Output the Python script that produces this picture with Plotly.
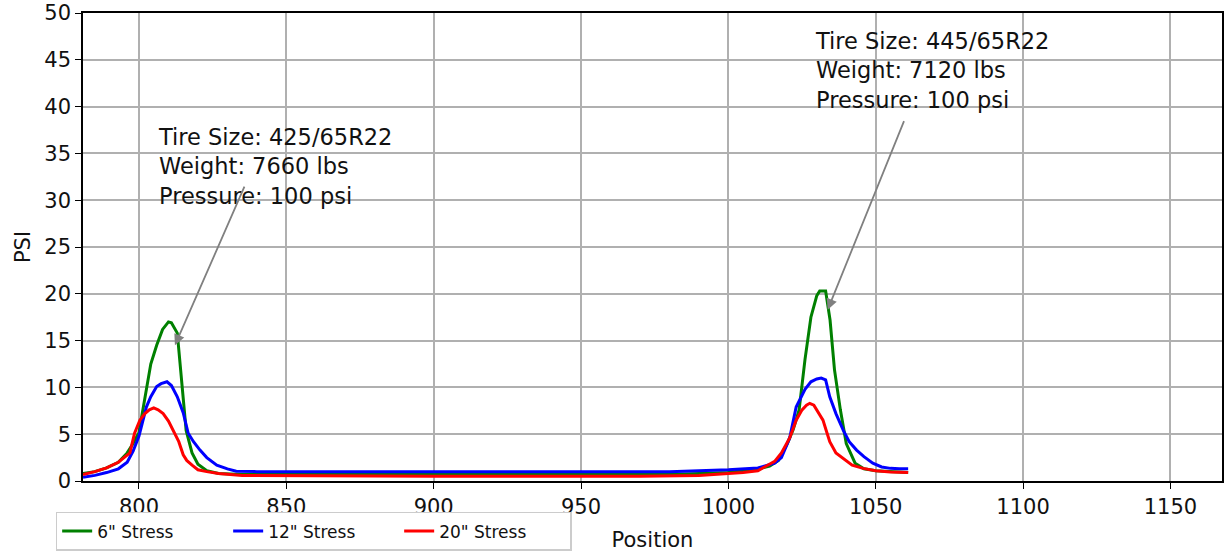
import plotly.graph_objects as go

# ---- data ----
green_x = [781, 785, 789, 793, 796, 798, 800, 802, 804, 806, 808, 810, 811, 813, 814.5, 816, 818, 820, 823, 827,
           835, 850, 875, 900, 925, 950, 980, 1000, 1005, 1010, 1014, 1017, 1020, 1022, 1024, 1026, 1028, 1030,
           1031, 1033, 1034.5, 1036, 1038, 1040, 1043, 1046, 1050, 1055, 1061]
green_y = [0.8, 1.0, 1.4, 2.0, 3.0, 4.0, 5.2, 9.0, 12.5, 14.5, 16.2, 17.0, 16.9, 15.8, 10.8, 5.4, 3.0, 1.8, 1.1, 0.8,
           0.7, 0.7, 0.72, 0.7, 0.68, 0.65, 0.7, 0.9, 1.1, 1.3, 1.6, 2.2, 4.0, 5.5, 7.6, 13.0, 17.5, 19.8,
           20.3, 20.3, 17.2, 11.9, 7.6, 4.0, 1.9, 1.3, 1.1, 1.0, 0.9]

blue_x = [781, 785, 789, 793, 796, 798, 800, 802.5, 804, 806, 807.5, 809.5, 811, 813, 815, 816.7, 818.5, 820.7, 823,
          826.4, 830, 833, 840, 860, 880, 900, 920, 940, 960, 980, 1000, 1005, 1010, 1015.7, 1018, 1020.8, 1023,
          1026, 1028, 1030, 1031.5, 1033, 1034.4, 1036.5, 1039, 1041, 1043.5, 1046, 1049, 1052, 1055, 1058, 1061]
blue_y = [0.4, 0.6, 0.9, 1.3, 2.0, 3.2, 4.8, 7.9, 9.0, 10.1, 10.4, 10.6, 10.2, 9.0, 7.3, 5.1, 4.2, 3.3, 2.5,
          1.7, 1.3, 1.05, 1.0, 1.0, 1.0, 1.0, 0.95, 0.95, 0.95, 1.0, 1.2, 1.3, 1.4, 1.9, 2.5, 4.6, 7.9,
          9.8, 10.6, 10.9, 11.0, 10.8, 9.0, 7.2, 5.4, 4.2, 3.3, 2.6, 1.9, 1.5, 1.35, 1.3, 1.3]

red_x = [781, 785, 789, 793, 796.9, 798.5, 800.3, 802, 803.5, 805, 806.5, 808.2, 810, 811.6, 813.5, 815, 816.2, 818,
         820, 823, 827, 835, 860, 900, 940, 970, 990, 1000, 1005, 1010, 1015.7, 1018, 1020.8, 1023, 1025, 1026.5,
         1027.6, 1029, 1030.5, 1032.1, 1033.2, 1034.4, 1036.5, 1038.9, 1042, 1045.7, 1050, 1055, 1061]
red_y = [0.7, 1.0, 1.4, 2.0, 3.0, 5.1, 6.5, 7.2, 7.6, 7.8, 7.6, 7.2, 6.4, 5.4, 4.2, 2.8, 2.2, 1.7,
         1.2, 1.0, 0.8, 0.6, 0.55, 0.5, 0.5, 0.5, 0.6, 0.8, 0.9, 1.1, 2.1, 3.0, 4.6, 6.5, 7.6, 8.1,
         8.3, 8.1, 7.3, 6.5, 5.4, 4.2, 3.0, 2.4, 1.7, 1.35, 1.1, 0.95, 0.9]

series_names = ['6" Stress', '12" Stress', '20" Stress']
series_colors = ["green", "blue", "red"]

x_ticks = [800, 850, 900, 950, 1000, 1050, 1100, 1150]
y_ticks = [0, 5, 10, 15, 20, 25, 30, 35, 40, 45, 50]

notes = [
    {"text": "Tire Size: 425/65R22<br>Weight: 7660 lbs<br>Pressure: 100 psi",
     "tx": 805.8, "ty": 38.4, "ax": 836, "ay": 31.6, "hx": 812.2, "hy": 14.5},
    {"text": "Tire Size: 445/65R22<br>Weight: 7120 lbs<br>Pressure: 100 psi",
     "tx": 1028.8, "ty": 48.6, "ax": 1059.8, "ay": 38.6, "hx": 1033.7, "hy": 18.3},
]

FONT = "DejaVu Sans"

fig = go.Figure()
for xs, ys, name, col in zip([green_x, blue_x, red_x], [green_y, blue_y, red_y], series_names, series_colors):
    fig.add_trace(go.Scatter(x=xs, y=ys, mode="lines", name=name,
                             line=dict(color=col, width=3)))

for n in notes:
    fig.add_annotation(x=n["tx"], y=n["ty"], xref="x", yref="y", text=n["text"], showarrow=False,
                       xanchor="left", yanchor="top", align="left",
                       font=dict(family=FONT, size=22.5, color="#111111"))
    fig.add_annotation(x=n["hx"], y=n["hy"], ax=n["ax"], ay=n["ay"], xref="x", yref="y",
                       axref="x", ayref="y", text="", showarrow=True, arrowhead=2,
                       arrowsize=1.2, arrowwidth=1.8, arrowcolor="grey")

fig.update_layout(
    width=1224, height=556,
    margin=dict(l=83, r=2, t=13, b=75),
    plot_bgcolor="white", paper_bgcolor="white",
    font=dict(family=FONT, size=21, color="#111111"),
    showlegend=True,
    legend=dict(orientation="h", x=-0.024, y=-0.066, xanchor="left", yanchor="top",
                bordercolor="#cccccc", borderwidth=1.5, bgcolor="white",
                font=dict(family=FONT, size=17), entrywidth=126, entrywidthmode="pixels",
                tracegroupgap=0),
)
fig.update_xaxes(range=[781, 1167.5], tickvals=x_ticks, showgrid=True, gridcolor="#b0b0b0", gridwidth=1.5,
                 showline=True, linecolor="black", linewidth=1.5, mirror=True, automargin=False,
                 ticks="outside", ticklen=6, tickcolor="black", zeroline=False,
                 tickfont=dict(size=21),
                 title=dict(text="Position", font=dict(size=21), standoff=14))
fig.update_yaxes(range=[0, 50], tickvals=y_ticks, showgrid=True, gridcolor="#b0b0b0", gridwidth=1.5,
                 showline=True, linecolor="black", linewidth=1.5, mirror=True, automargin=False,
                 ticks="outside", ticklen=6, tickcolor="black", zeroline=False,
                 tickfont=dict(size=21),
                 title=dict(text="PSI", font=dict(size=21), standoff=8))

fig.write_html("out.html", config={"displayModeBar": False},
               post_script="document.body.style.margin='0';")
